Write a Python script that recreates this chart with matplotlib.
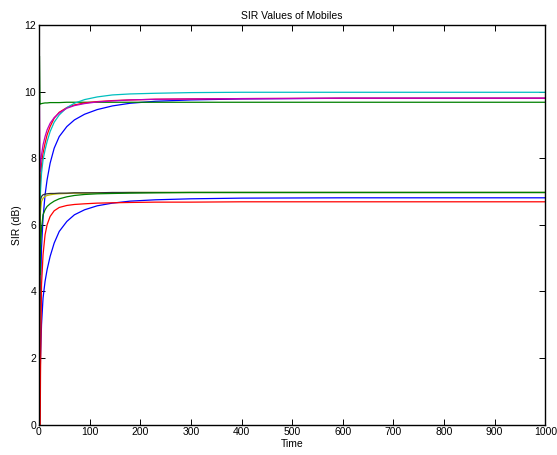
import numpy as np
import matplotlib
matplotlib.use("Agg")
import matplotlib.pyplot as plt

plt.rcParams['font.family'] = ['Liberation Sans', 'DejaVu Sans']

t_pts = [1, 2, 3, 5, 8, 12, 16, 22, 30, 40, 55, 70, 90, 115, 145, 180, 230, 300, 400, 600, 1000]

# SIR (dB) of each mobile, plotted in MATLAB colour order b g r c m y k b g r
sir_b1 = [2.0, 3.2, 4.1, 5.3, 6.2, 6.9, 7.35, 7.85, 8.3, 8.65, 8.95, 9.15, 9.32, 9.46, 9.57,
          9.65, 9.71, 9.75, 9.78, 9.80, 9.80]
sir_g1 = [11.05, 9.62, 9.63, 9.64, 9.65, 9.66, 9.66, 9.67, 9.67, 9.67, 9.68, 9.68, 9.68, 9.68,
          9.68, 9.68, 9.68, 9.68, 9.68, 9.68, 9.68]
sir_r1 = [6.5, 7.0, 7.4, 7.8, 8.15, 8.45, 8.7, 8.95, 9.2, 9.38, 9.52, 9.6, 9.66, 9.7, 9.73,
          9.75, 9.77, 9.78, 9.79, 9.80, 9.80]
sir_c1 = [5.0, 6.3, 7.0, 7.55, 7.95, 8.25, 8.5, 8.8, 9.08, 9.3, 9.52, 9.65, 9.76, 9.84, 9.9,
          9.93, 9.95, 9.97, 9.98, 9.98, 9.98]
sir_m1 = [9.6, 7.6, 7.8, 8.1, 8.4, 8.65, 8.85, 9.05, 9.22, 9.36, 9.5, 9.58, 9.64, 9.69, 9.72,
          9.75, 9.77, 9.78, 9.79, 9.80, 9.80]
sir_y1 = [-1.0, 5.8, 6.4, 6.7, 6.8, 6.85, 6.88, 6.9, 6.92, 6.93, 6.94, 6.95, 6.95, 6.96, 6.96,
          6.97, 6.97, 6.97, 6.97, 6.97, 6.97]
sir_k1 = [-1.0, 6.5, 6.75, 6.85, 6.9, 6.92, 6.93, 6.94, 6.94, 6.95, 6.95, 6.96, 6.96, 6.96, 6.97,
          6.97, 6.97, 6.97, 6.97, 6.97, 6.97]
sir_b2 = [0.0, 1.2, 2.0, 3.0, 3.8, 4.3, 4.65, 5.05, 5.45, 5.8, 6.1, 6.3, 6.45, 6.57, 6.65,
          6.71, 6.75, 6.78, 6.8, 6.81, 6.81]
sir_g2 = [7.8, 4.5, 5.3, 5.9, 6.3, 6.45, 6.55, 6.63, 6.71, 6.78, 6.84, 6.88, 6.91, 6.93, 6.94,
          6.95, 6.96, 6.97, 6.97, 6.97, 6.97]
sir_r2 = [-4.0, -1.0, 1.5, 4.2, 5.1, 5.7, 6.0, 6.25, 6.42, 6.52, 6.58, 6.61, 6.63, 6.65, 6.66,
          6.67, 6.68, 6.68, 6.69, 6.69, 6.69]

series = [sir_b1, sir_g1, sir_r1, sir_c1, sir_m1, sir_y1, sir_k1, sir_b2, sir_g2, sir_r2]
colors = [(0, 0, 1), (0, 0.5, 0), (1, 0, 0), (0, 0.75, 0.75), (0.75, 0, 0.75),
          (0.75, 0.75, 0), (0.2, 0.2, 0.2), (0, 0, 1), (0, 0.5, 0), (1, 0, 0)]

fig = plt.figure(figsize=(5.57, 4.55), dpi=100)
ax = fig.add_axes([0.070, 0.067, 0.909, 0.878])

for vals, c in zip(series, colors):
    ax.plot(t_pts, vals, color=c, lw=0.9)

ax.set_xlim(0, 1000)
ax.set_ylim(0, 12)
ax.set_xticks(np.arange(0, 1001, 100))
ax.set_yticks(np.arange(0, 13, 2))
ax.tick_params(direction='in', top=True, right=True, length=4, width=0.7,
               labelsize=7.5, pad=2)
for s in ax.spines.values():
    s.set_linewidth(1.0)

ax.set_title('SIR Values of Mobiles', fontsize=7.5, pad=4)
ax.set_xlabel('Time', fontsize=7.5, labelpad=1)
ax.set_ylabel('SIR (dB)', fontsize=7.5, labelpad=2)

fig.savefig('out.png', dpi=100)
